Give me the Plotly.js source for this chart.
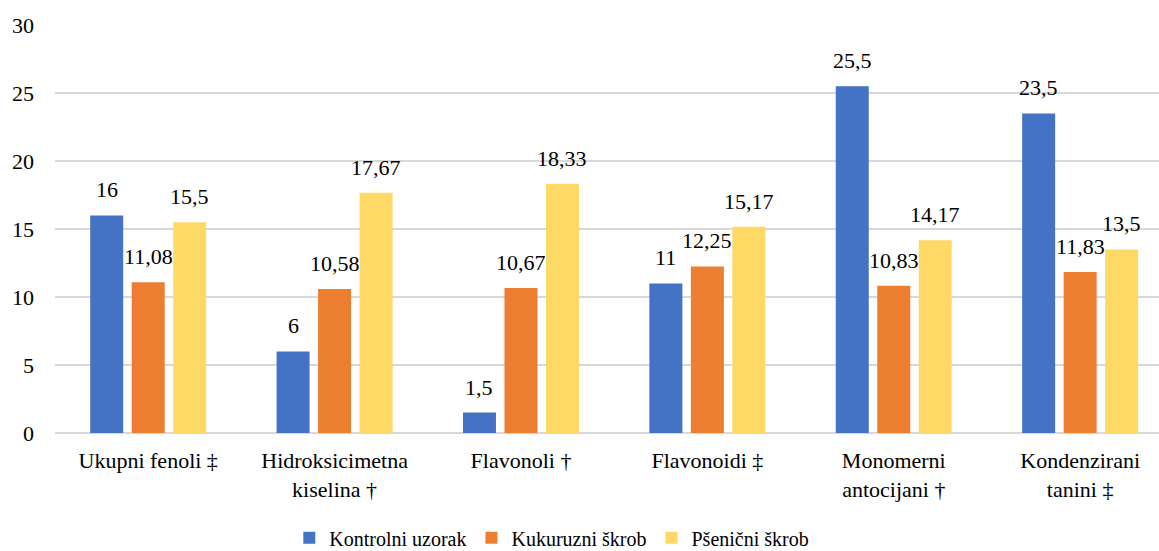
<!DOCTYPE html>
<html>
<head>
<meta charset="utf-8">
<script src="https://cdn.plot.ly/plotly-3.0.1.min.js"></script>
<style>html,body{margin:0;padding:0;background:#fff;}#chart{width:1159px;height:551px;}</style>
</head>
<body>
<div id="chart"></div>
<script>
var categories = ["Ukupni fenoli ‡", "Hidroksicimetna<br>kiselina †", "Flavonoli †", "Flavonoidi ‡", "Monomerni<br>antocijani †", "Kondenzirani<br>tanini ‡"];
var seriesNames = ["Kontrolni uzorak", "Kukuruzni škrob", "Pšenični škrob"];
var kontrolni = [16, 6, 1.5, 11, 25.5, 23.5];
var kukuruzni = [11.08, 10.58, 10.67, 12.25, 10.83, 11.83];
var psenicni = [15.5, 17.67, 18.33, 15.17, 14.17, 13.5];
var colors = ["#4472C4", "#ED7D31", "#FFD966"];
var yTicks = [0, 5, 10, 15, 20, 25, 30];

var FONT = "Liberation Serif, Times New Roman, serif";
var allSeries = [kontrolni, kukuruzni, psenicni];

var traces = allSeries.map(function (vals, i) {
  return {
    type: "bar",
    name: seriesNames[i],
    x: categories,
    y: vals,
    marker: { color: colors[i], line: { width: 0 } },
    hoverinfo: "x+y"
  };
});

var slot = 41.5;
var annotations = [];
allSeries.forEach(function (vals, i) {
  vals.forEach(function (v, j) {
    annotations.push({
      x: categories[j], y: v, xref: "x", yref: "y",
      text: String(v).replace(".", ","),
      showarrow: false,
      xanchor: "center", yanchor: "bottom",
      xshift: (i - 1) * slot, yshift: 11,
      font: { family: FONT, size: 22, color: "#000" }
    });
  });
});

var layout = {
  width: 1159, height: 551,
  margin: { l: 55, r: 0, t: 25, b: 118, autoexpand: false },
  paper_bgcolor: "#fff", plot_bgcolor: "#fff",
  font: { family: FONT, size: 22, color: "#000" },
  barmode: "group",
  bargap: 0.332,
  bargroupgap: 0.205,
  showlegend: true,
  legend: {
    orientation: "h", x: 0.45, xanchor: "center", y: -0.257, yanchor: "middle",
    font: { family: FONT, size: 20, color: "#000" },
    traceorder: "normal"
  },
  xaxis: {
    type: "category",
    range: [-0.5, 5.423],
    showgrid: false, zeroline: false, showline: false,
    ticks: "", ticklabelstandoff: 12,
    tickfont: { family: FONT, size: 22, color: "#000" },
    fixedrange: true
  },
  yaxis: {
    range: [0, 30],
    tickvals: yTicks, ticktext: yTicks.map(String),
    showgrid: true, gridcolor: "#D9D9D9", gridwidth: 1.5,
    zeroline: true, zerolinecolor: "#D9D9D9", zerolinewidth: 1.5,
    showline: false, ticks: "", ticklabelstandoff: 20,
    tickfont: { family: FONT, size: 22, color: "#000" },
    fixedrange: true
  },
  annotations: annotations
};

Plotly.newPlot("chart", traces, layout, { displayModeBar: false, staticPlot: true });
</script>
</body>
</html>
